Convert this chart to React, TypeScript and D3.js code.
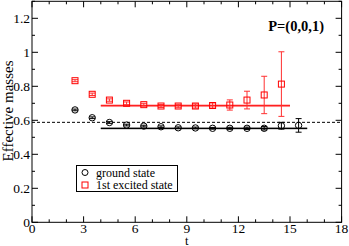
import React, { useEffect, useRef } from 'react';
import * as d3 from 'd3';

const tGround = [2.5, 3.5, 4.5, 5.5, 6.5, 7.5, 8.5, 9.5, 10.5, 11.5, 12.5, 13.5, 14.5, 15.5];
const ground = [0.661, 0.615, 0.587, 0.572, 0.566, 0.562, 0.556, 0.555, 0.553, 0.553, 0.553, 0.553, 0.568, 0.57];
const groundErr = [0.005, 0.005, 0.005, 0.005, 0.005, 0.005, 0.005, 0.005, 0.005, 0.006, 0.007, 0.01, 0.02, 0.04];

const tExcited = [2.5, 3.5, 4.5, 5.5, 6.5, 7.5, 8.5, 9.5, 10.5, 11.5, 12.5, 13.5, 14.5];
const excited = [0.833, 0.753, 0.719, 0.7, 0.692, 0.684, 0.684, 0.684, 0.687, 0.69, 0.719, 0.749, 0.813];
const excitedErr = [0.006, 0.007, 0.007, 0.008, 0.008, 0.009, 0.01, 0.012, 0.015, 0.03, 0.052, 0.11, 0.19];

const groundFit = { from: 4, to: 16, value: 0.552, err: 0.006 };
const excitedFit = { from: 4, to: 15, value: 0.686, err: 0.008 };
const reference = 0.588;

const xTicks = [0, 3, 6, 9, 12, 15, 18];
const yTicks = [0, 0.2, 0.4, 0.6, 0.8, 1, 1.2];

const W = 349;
const H = 246;

const App = () => {
  const ref = useRef<SVGSVGElement>(null);

  useEffect(() => {
    const svg = d3.select(ref.current);
    svg.selectAll('*').remove();

    const m = { left: 32, right: 7.4, top: 1.3, bottom: 23.7 };
    const x = d3.scaleLinear().domain([0, 18]).range([m.left, W - m.right]);
    const y = d3.scaleLinear().domain([0, 1.3]).range([H - m.bottom, m.top]);
    const font = "'Liberation Serif', 'Times New Roman', serif";

    // frame
    svg.append('rect')
      .attr('x', x(0)).attr('y', y(1.3))
      .attr('width', x(18) - x(0)).attr('height', y(0) - y(1.3))
      .attr('fill', 'none').attr('stroke', '#000').attr('stroke-width', 1);

    // ticks, inward on all four sides
    const xMinor = d3.range(0, 19, 1);
    const yMinor = d3.range(0, 1.31, 0.1);
    const tk = svg.append('g').attr('stroke', '#000').attr('stroke-width', 1);
    xMinor.forEach(v => {
      const len = v % 3 === 0 ? 6 : 3;
      tk.append('line').attr('x1', x(v)).attr('x2', x(v)).attr('y1', y(0)).attr('y2', y(0) - len);
      tk.append('line').attr('x1', x(v)).attr('x2', x(v)).attr('y1', y(1.3)).attr('y2', y(1.3) + len);
    });
    yMinor.forEach((v, i) => {
      const len = i % 2 === 0 ? 6 : 3;
      tk.append('line').attr('y1', y(v)).attr('y2', y(v)).attr('x1', x(0)).attr('x2', x(0) + len);
      tk.append('line').attr('y1', y(v)).attr('y2', y(v)).attr('x1', x(18)).attr('x2', x(18) - len);
    });

    svg.append('g').selectAll('text').data(xTicks).enter().append('text')
      .attr('x', d => x(d)).attr('y', y(0) + 10.5)
      .attr('text-anchor', 'middle')
      .attr('font-family', font).attr('font-size', 13.5)
      .text(d => d);

    svg.append('g').selectAll('text').data(yTicks).enter().append('text')
      .attr('x', x(0) - 2).attr('y', d => y(d)).attr('dy', '0.35em')
      .attr('text-anchor', 'end')
      .attr('font-family', font).attr('font-size', 13.5)
      .text(d => d === 0 ? '0' : d3.format('')(d));

    svg.append('text')
      .attr('x', x(9)).attr('y', H - 1)
      .attr('text-anchor', 'middle')
      .attr('font-family', font).attr('font-size', 12.5)
      .text('t');

    svg.append('text')
      .attr('transform', `translate(13,${y(0.655)}) rotate(-90)`)
      .attr('text-anchor', 'middle')
      .attr('font-family', font).attr('font-size', 15)
      .text('Effective masses');

    // dashed reference line
    svg.append('line')
      .attr('x1', x(0)).attr('x2', x(18))
      .attr('y1', y(reference)).attr('y2', y(reference))
      .attr('stroke', '#000').attr('stroke-width', 1).attr('stroke-dasharray', '3,2');

    // fit bands
    const band = (fit, fillCol, lineCol) => {
      svg.append('rect')
        .attr('x', x(fit.from)).attr('width', x(fit.to) - x(fit.from))
        .attr('y', y(fit.value + fit.err)).attr('height', y(fit.value - fit.err) - y(fit.value + fit.err))
        .attr('fill', fillCol);
      svg.append('line')
        .attr('x1', x(fit.from)).attr('x2', x(fit.to))
        .attr('y1', y(fit.value)).attr('y2', y(fit.value))
        .attr('stroke', lineCol).attr('stroke-width', 1.2);
    };
    band(excitedFit, 'rgba(255,80,80,0.5)', '#ff2020');
    band(groundFit, 'rgba(0,0,0,0.35)', '#000');

    // error bars
    const errBars = (ts, vals, errs, col) => {
      const g = svg.append('g').attr('stroke', col).attr('stroke-width', 1);
      ts.forEach((t, i) => {
        const cx = x(t);
        const y1 = y(vals[i] + errs[i]);
        const y2 = y(vals[i] - errs[i]);
        g.append('line').attr('x1', cx).attr('x2', cx).attr('y1', y1).attr('y2', y2);
        g.append('line').attr('x1', cx - 3).attr('x2', cx + 3).attr('y1', y1).attr('y2', y1);
        g.append('line').attr('x1', cx - 3).attr('x2', cx + 3).attr('y1', y2).attr('y2', y2);
      });
    };
    errBars(tExcited, excited, excitedErr, '#ff3030');
    errBars(tGround, ground, groundErr, '#000');

    svg.append('g').selectAll('rect').data(tExcited).enter().append('rect')
      .attr('x', d => x(d) - 3).attr('y', (d, i) => y(excited[i]) - 3)
      .attr('width', 6).attr('height', 6)
      .attr('fill', 'none').attr('stroke', '#ff0000').attr('stroke-width', 1);

    svg.append('g').selectAll('circle').data(tGround).enter().append('circle')
      .attr('cx', d => x(d)).attr('cy', (d, i) => y(ground[i]))
      .attr('r', 3.2)
      .attr('fill', 'none').attr('stroke', '#000').attr('stroke-width', 1);

    svg.append('text')
      .attr('x', 324).attr('y', 31)
      .attr('text-anchor', 'end')
      .attr('font-family', font).attr('font-size', 14.5).attr('font-weight', 'bold')
      .text('P=(0,0,1)');

    // legend
    const lg = svg.append('g');
    lg.append('rect')
      .attr('x', 76.5).attr('y', 165.5).attr('width', 101).attr('height', 26)
      .attr('fill', '#fff').attr('stroke', '#000').attr('stroke-width', 1);
    lg.append('circle').attr('cx', 85).attr('cy', 172.5).attr('r', 3)
      .attr('fill', 'none').attr('stroke', '#000');
    lg.append('rect').attr('x', 82).attr('y', 182).attr('width', 6).attr('height', 6)
      .attr('fill', 'none').attr('stroke', '#ff0000');
    lg.append('text').attr('x', 96).attr('y', 176.5)
      .attr('font-family', font).attr('font-size', 12).text('ground state');
    lg.append('text').attr('x', 96).attr('y', 189)
      .attr('font-family', font).attr('font-size', 12).text('1st excited state');
  }, []);

  return <svg ref={ref} width={W} height={H} style={{ position: 'absolute', left: 0, top: 0, background: '#fff' }} />;
};

export default App;
